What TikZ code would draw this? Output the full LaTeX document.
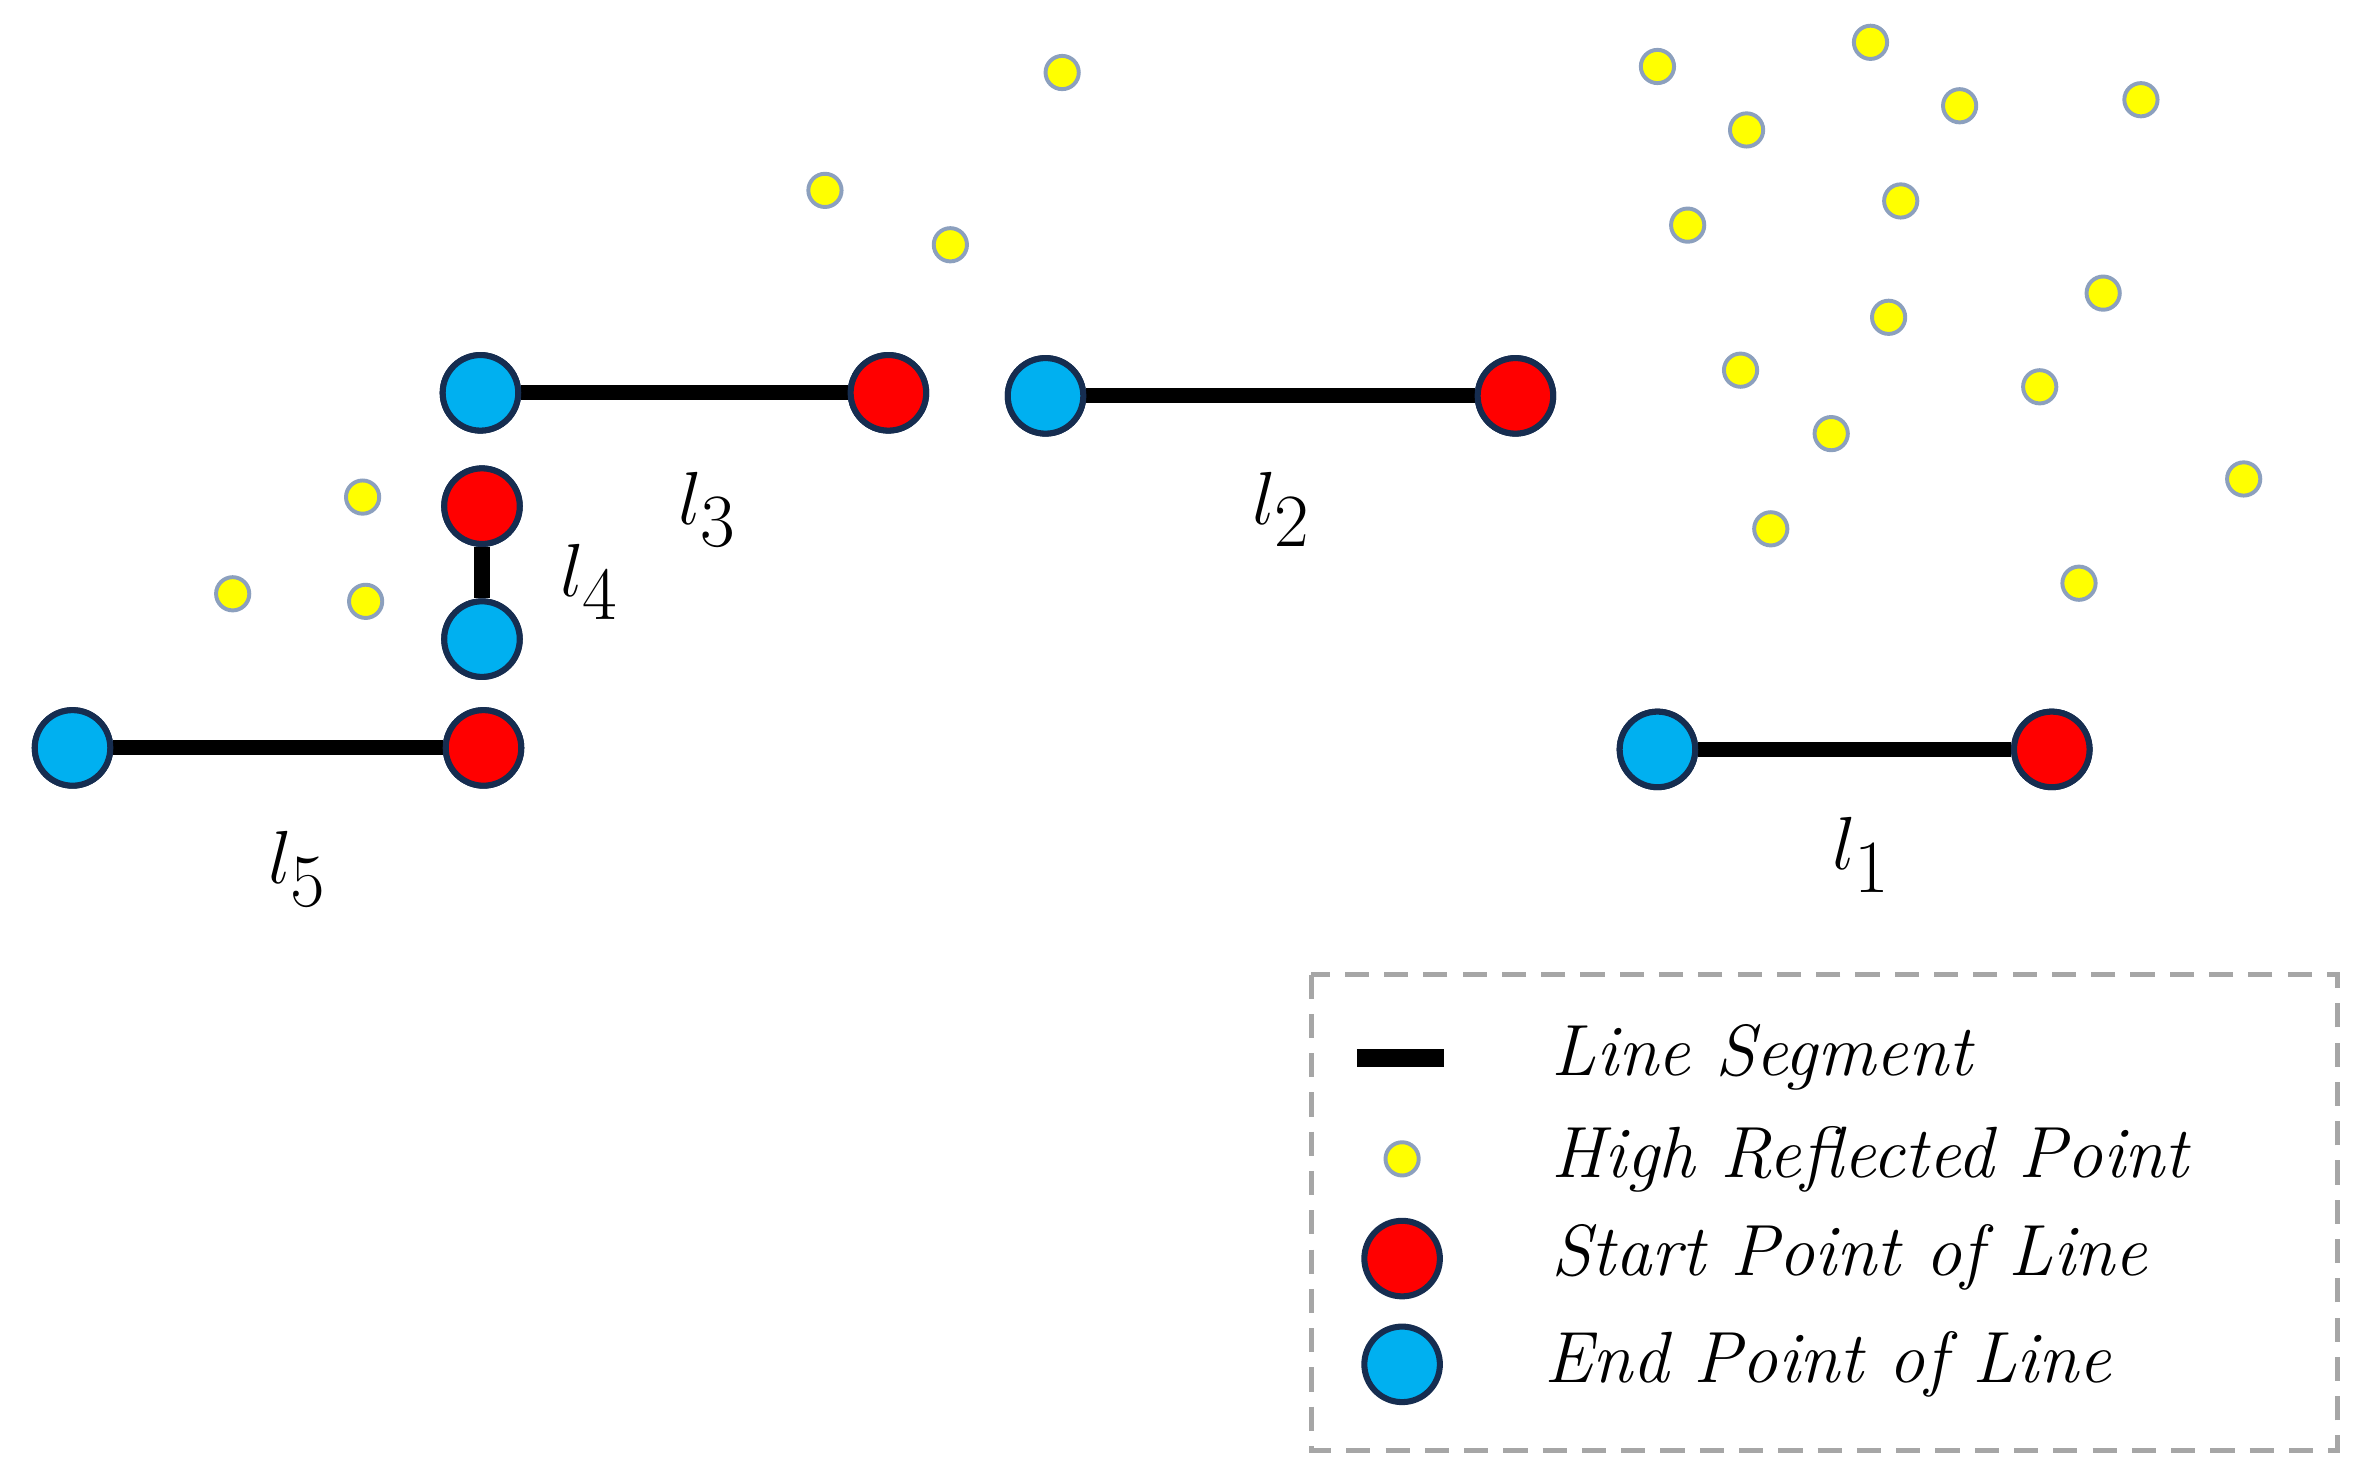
\documentclass[tikz,border=0pt]{standalone}
\usepackage{fontspec}
\begin{document}
\definecolor{cblue}{RGB}{0,176,240}
\definecolor{cred}{RGB}{255,0,0}
\definecolor{cedge}{RGB}{22,45,80}
\definecolor{cyel}{RGB}{255,255,0}
\definecolor{cyedge}{RGB}{140,160,190}
\begin{tikzpicture}[x=0.5pt,y=-0.5pt,
  ep/.style={circle,draw=cedge,line width=2pt,minimum size=25pt,inner sep=0pt},
  bp/.style={ep,fill=cblue},
  rp/.style={ep,fill=cred},
  yp/.style={circle,draw=cyedge,fill=cyel,line width=1.3pt,minimum size=11pt,inner sep=0pt},
  seg/.style={line width=5pt,black},
  lab/.style={font=\fontsize{36}{40}\selectfont},
  leg/.style={font=\fontsize{24}{28}\selectfont\itshape,anchor=west}]
\useasboundingbox (0,0) rectangle (1560,980);
% segments
\node[bp] (b3) at (318,260) {}; \node[rp] (r3) at (588,260) {};
\node[bp] (b2) at (692,262) {}; \node[rp] (r2) at (1003,262) {};
\node[rp] (r4) at (319,335) {}; \node[bp] (b4) at (319,423) {};
\node[bp] (b5) at (48,495) {}; \node[rp] (r5) at (320,495) {};
\node[bp] (b1) at (1097,496) {}; \node[rp] (r1) at (1358,496) {};
\begin{scope}[on background layer/.try]
\end{scope}
\draw[seg] (b3) -- (r3); \draw[seg] (b2) -- (r2); \draw[seg] (r4) -- (b4);
\draw[seg] (b5) -- (r5); \draw[seg] (b1) -- (r1);
\foreach \n/\x/\y/\f in {b3/318/260/cblue,r3/588/260/cred,b2/692/262/cblue,r2/1003/262/cred,r4/319/335/cred,b4/319/423/cblue,b5/48/495/cblue,r5/320/495/cred,b1/1097/496/cblue,r1/1358/496/cred}
  \node[ep,fill=\f] at (\x,\y) {};
% labels
\node[lab] (t3) at (468,337) {$l_3$};
\node[lab] (t2) at (848,337) {$l_2$};
\node[lab] (t4) at (390,385) {$l_4$};
\node[lab] (t5) at (197,575) {$l_5$};
\node[lab] (t1) at (1232,566) {$l_1$};
% points
\foreach \x/\y [count=\i] in {703/48,546/126,629/162,1097/44,1238/28,1156/86,1297/70,1417/66,1117/149,1258/133,1392/194,1250/210,1152/245,1350/256,1212/287,1485/317,1172/350,1376/386,240/329,154/393,242/398}
  \node[yp] (p\i) at (\x,\y) {};
% legend
\draw[gray!70,dashed,line width=1.5pt,dash pattern=on 8pt off 5pt] (868,645) rectangle (1547,960);
\coordinate (la) at (898,700); \coordinate (lb) at (956,700);
\draw[line width=6pt] (la) -- (lb);
\node[yp] (ly) at (928,767) {};
\node[rp] (lr) at (928,833) {};
\node[bp] (lbl) at (928,903) {};
\node[leg] (g1) at (1020,700) {Line Segment};
\node[leg] (g2) at (1020,767) {High Reflected Point};
\node[leg] (g3) at (1020,832) {Start Point of Line};
\node[leg] (g4) at (1015,903) {End Point of Line};
\end{tikzpicture}
\end{document}
